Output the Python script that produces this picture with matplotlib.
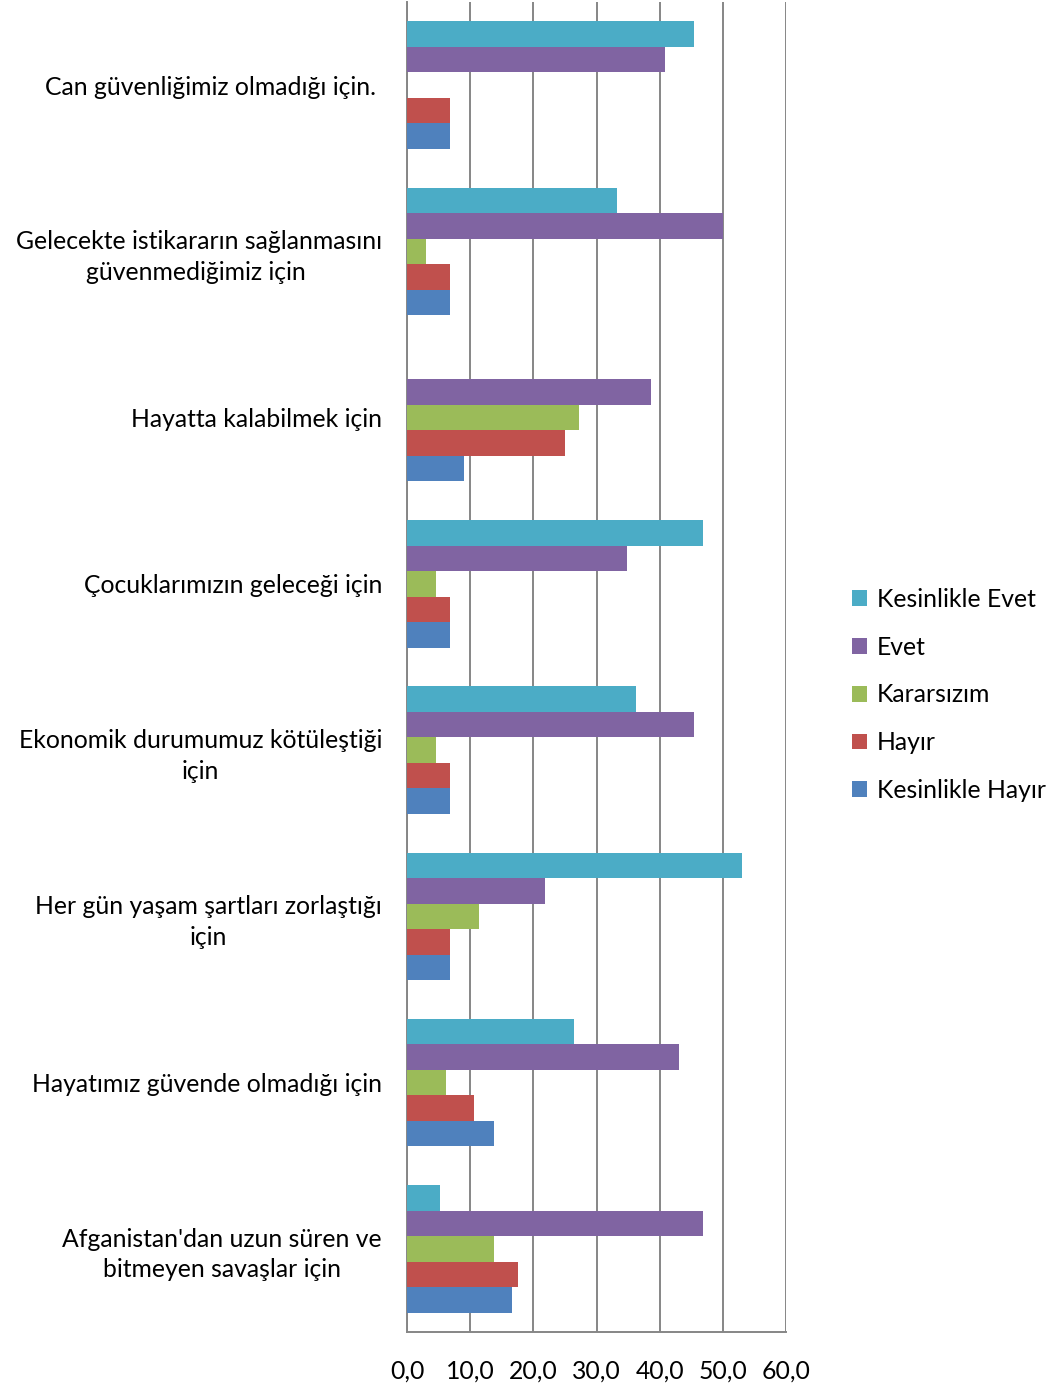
import numpy as np
import matplotlib.pyplot as plt
from matplotlib.patches import Patch

plt.rcParams['font.family'] = ['Lato', 'DejaVu Sans']

categories = ["Can güvenliğimiz olmadığı için. ",
              "Gelecekte istikararın sağlanmasını\ngüvenmediğimiz için ",
              "Hayatta kalabilmek için",
              "Çocuklarımızın geleceği için",
              "Ekonomik durumumuz kötüleştiği\niçin",
              "Her gün yaşam şartları zorlaştığı\niçin",
              "Hayatımız güvende olmadığı için",
              "Afganistan'dan uzun süren ve\nbitmeyen savaşlar için"]

series = ["Kesinlikle Evet", "Evet", "Kararsızım", "Hayır", "Kesinlikle Hayır"]
kesinlikle_evet = [45.4, 33.3, 0.0, 46.9, 36.3, 53.0, 26.5, 5.3]
evet = [40.9, 50.0, 38.7, 34.9, 45.4, 21.9, 43.1, 46.9]
kararsizim = [0.0, 3.0, 27.3, 4.6, 4.6, 11.4, 6.1, 13.7]
hayir = [6.8, 6.8, 25.0, 6.8, 6.8, 6.8, 10.6, 17.5]
kesinlikle_hayir = [6.8, 6.8, 9.1, 6.8, 6.8, 6.8, 13.7, 16.7]
colors = ['#4BACC6', '#8064A2', '#9BBB59', '#C0504D', '#4F81BD']

values = [kesinlikle_evet, evet, kararsizim, hayir, kesinlikle_hayir]
fs = 17.8

fig = plt.figure(figsize=(10.48, 13.93), dpi=100)
ax = fig.add_axes([407/1048, 61/1393, 379/1048, 1330/1393])

y = np.arange(len(categories))
h = 0.1535
for j, (vals, c) in enumerate(zip(values, colors)):
    ax.barh(y + (j - 2) * h, vals, height=h, color=c, linewidth=0, zorder=3)

ax.set_xlim(0, 60)
ax.set_ylim(len(categories) - 0.5, -0.5)
ticks = np.arange(0, 61, 10)
ax.set_xticks(ticks)
ax.set_xticklabels([("%.1f" % v).replace('.', ',') for v in ticks])
ax.xaxis.grid(True, color='#868686', linewidth=1.4, zorder=1)
ax.set_yticks(y)
ax.set_yticklabels(categories, multialignment='center', linespacing=1.4)
ax.tick_params(axis='x', length=0, pad=20, labelsize=fs)
ax.tick_params(axis='y', length=0, pad=18, labelsize=fs)
for s in ['top', 'right']:
    ax.spines[s].set_visible(False)
for s in ['left', 'bottom']:
    ax.spines[s].set_color('#868686')
    ax.spines[s].set_linewidth(1.4)

handles = [Patch(facecolor=c, label=s) for s, c in zip(series, colors)]
fig.legend(handles=handles, loc='center left', bbox_to_anchor=(852/1048, 1 - 695/1393),
           frameon=False, fontsize=fs, handlelength=0.6, handleheight=0.6,
           handletextpad=0.4, labelspacing=1.0, borderpad=0, borderaxespad=0)

plt.savefig('out.png', dpi=100)
